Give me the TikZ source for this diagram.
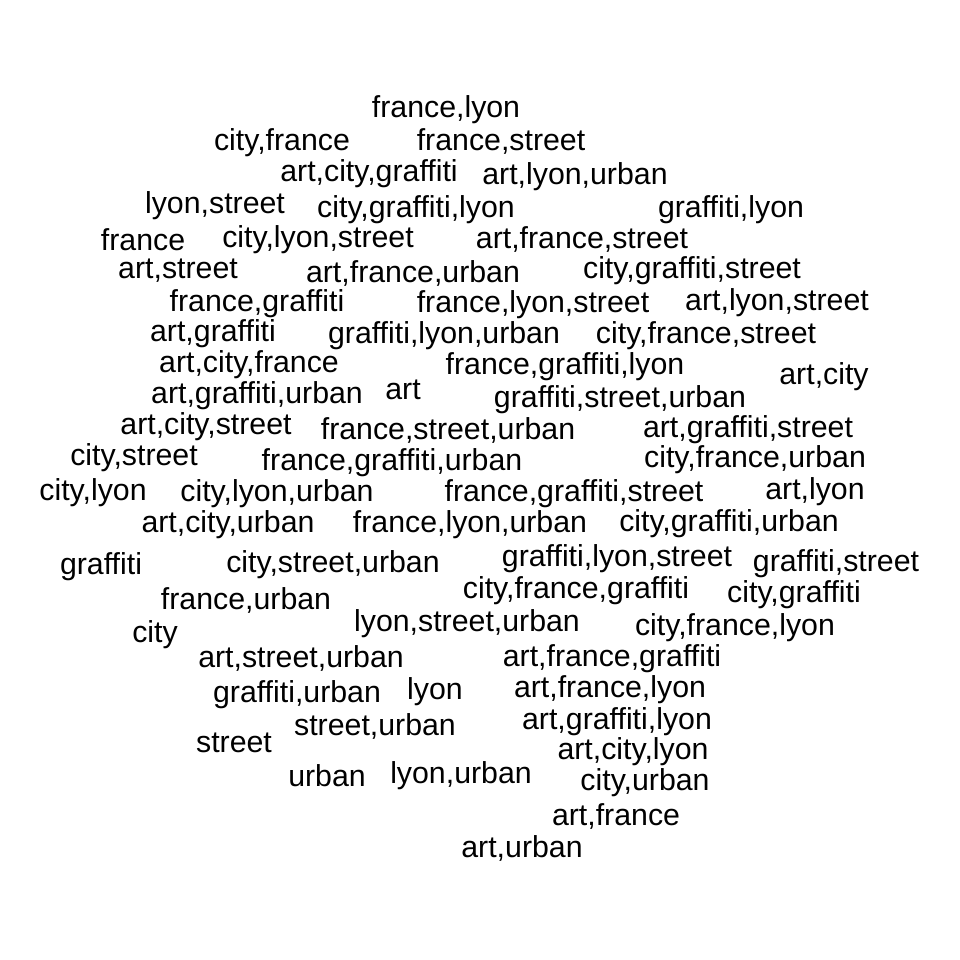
\documentclass[tikz,border=0pt]{standalone}
\usepackage{fontspec}
\setmainfont{Liberation Sans}
\begin{document}
\begin{tikzpicture}[x=1pt,y=-1pt,
  w/.style={anchor=base,inner sep=0pt,font=\fontsize{30.3}{34}\selectfont}]
\useasboundingbox (0,0) rectangle (960,960);
\fill[white] (0,0) rectangle (960,960);
\def\W#1#2#3#4{\node[w] (#1) at (#2,#3+10) {#4};}
\W{n1}{446}{108}{france,lyon}
\W{n2}{282}{141}{city,france}
\W{n3}{501}{141}{france,street}
\W{n4}{369}{172}{art,city,graffiti}
\W{n5}{575}{175}{art,lyon,urban}
\W{n6}{215}{203}{lyon,street}
\W{n7}{416}{207}{city,graffiti,lyon}
\W{n8}{731}{207}{graffiti,lyon}
\W{n9}{143}{240}{france}
\W{n10}{318}{237}{city,lyon,street}
\W{n11}{582}{238}{art,france,street}
\W{n12}{178}{268}{art,street}
\W{n13}{413}{272}{art,france,urban}
\W{n14}{692}{268}{city,graffiti,street}
\W{n15}{257}{301}{france,graffiti}
\W{n16}{533}{302}{france,lyon,street}
\W{n17}{777}{300}{art,lyon,street}
\W{n18}{213}{331}{art,graffiti}
\W{n19}{444}{333}{graffiti,lyon,urban}
\W{n20}{706}{333}{city,france,street}
\W{n21}{249}{362}{art,city,france}
\W{n22}{565}{364}{france,graffiti,lyon}
\W{n23}{824}{374}{art,city}
\W{n24}{257}{393}{art,graffiti,urban}
\W{n25}{403}{389}{art}
\W{n26}{620}{397}{graffiti,street,urban}
\W{n27}{206}{424}{art,city,street}
\W{n28}{448}{429}{france,street,urban}
\W{n29}{748}{427}{art,graffiti,street}
\W{n30}{134}{455}{city,street}
\W{n31}{392}{460}{france,graffiti,urban}
\W{n32}{755}{457}{city,france,urban}
\W{n33}{93}{490}{city,lyon}
\W{n34}{277}{491}{city,lyon,urban}
\W{n35}{574}{491}{france,graffiti,street}
\W{n36}{815}{489}{art,lyon}
\W{n37}{228}{522}{art,city,urban}
\W{n38}{470}{522}{france,lyon,urban}
\W{n39}{729}{521}{city,graffiti,urban}
\W{n40}{101}{564}{graffiti}
\W{n41}{333}{562}{city,street,urban}
\W{n42}{617}{556}{graffiti,lyon,street}
\W{n43}{836}{561}{graffiti,street}
\W{n44}{576}{588}{city,france,graffiti}
\W{n45}{794}{592}{city,graffiti}
\W{n46}{246}{599}{france,urban}
\W{n47}{467}{621}{lyon,street,urban}
\W{n48}{155}{632}{city}
\W{n49}{735}{625}{city,france,lyon}
\W{n50}{301}{657}{art,street,urban}
\W{n51}{612}{656}{art,france,graffiti}
\W{n52}{297}{692}{graffiti,urban}
\W{n53}{435}{689}{lyon}
\W{n54}{610}{687}{art,france,lyon}
\W{n55}{375}{725}{street,urban}
\W{n56}{617}{719}{art,graffiti,lyon}
\W{n57}{234}{742}{street}
\W{n58}{633}{749}{art,city,lyon}
\W{n59}{327}{776}{urban}
\W{n60}{461}{773}{lyon,urban}
\W{n61}{645}{780}{city,urban}
\W{n62}{616}{815}{art,france}
\W{n63}{522}{847}{art,urban}
\end{tikzpicture}
\end{document}
